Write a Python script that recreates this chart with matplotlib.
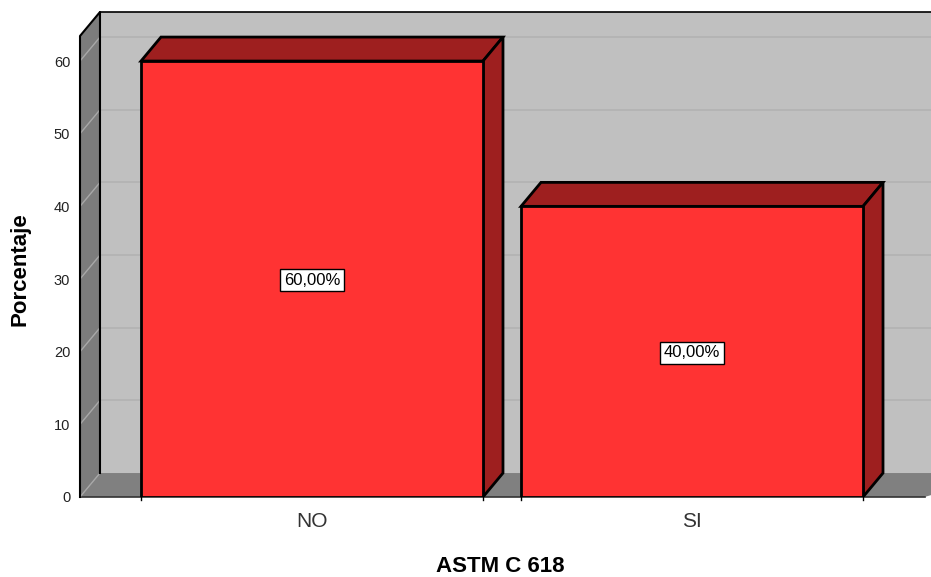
import matplotlib.pyplot as plt
from matplotlib.patches import Polygon

plt.rcParams['font.family'] = ['Liberation Sans', 'DejaVu Sans']

# data
categories = ['NO', 'SI']
percentages = [60.0, 40.0]
value_labels = ['60,00%', '40,00%']
y_ticks = [0, 10, 20, 30, 40, 50, 60]

# 3d look
dx = 0.0526      # depth offset in category units
dy = 3.3         # depth offset in percent units
bar_w = 0.9
x_left = -0.6105
x_right = 1.6289
wall_top = 63.45
face_red = '#ff3333'
dark_red = '#9e1f1f'

fig = plt.figure(figsize=(9.31, 5.77), dpi=100)
ax = fig.add_axes([80 / 931, 80 / 577, 851 / 931, 485 / 577])
ax.set_xlim(x_left, x_right)
ax.set_ylim(0, wall_top + dy)

# back wall
ax.add_patch(Polygon([(x_left + dx, dy), (x_left + dx, wall_top + dy),
                      (x_right + 0.2, wall_top + dy), (x_right + 0.2, dy)],
                     closed=True, fc='#c0c0c0', ec='none', zorder=1))
for v in y_ticks[1:]:
    ax.plot([x_left + dx, x_right], [v + dy, v + dy], color='#b2b2b2', lw=1.2, zorder=2)
ax.plot([x_left + dx, x_right + 0.2], [wall_top + dy] * 2, color='black', lw=1.2, zorder=6, clip_on=False)

# floor
ax.add_patch(Polygon([(x_left, 0), (x_left + dx, dy), (x_right + 0.2, dy), (x_right - 0.017, 0)],
                     closed=True, fc='#808080', ec='none', zorder=3))
ax.plot([x_left, x_right - 0.017], [0, 0], color='#333333', lw=1.2, zorder=4, clip_on=False)

# left wall
ax.add_patch(Polygon([(x_left, 0), (x_left, wall_top), (x_left + dx, wall_top + dy), (x_left + dx, dy)],
                     closed=True, fc='#7c7c7c', ec='none', zorder=4, clip_on=False))
for v in y_ticks:
    ax.plot([x_left, x_left + dx], [v, v + dy], color='#a8a8a8', lw=1.0, zorder=5, clip_on=False)
ax.plot([x_left, x_left, x_left + dx, x_left + dx], [0, wall_top, wall_top + dy, dy],
        color='black', lw=1.5, zorder=6, clip_on=False)

# bars
for i, (cat, val, lab) in enumerate(zip(categories, percentages, value_labels)):
    l, r = i - bar_w / 2, i + bar_w / 2
    top = Polygon([(l, val), (l + dx, val + dy), (r + dx, val + dy), (r, val)],
                  closed=True, fc=dark_red, ec='black', lw=2, zorder=10)
    side = Polygon([(r, 0), (r + dx, dy), (r + dx, val + dy), (r, val)],
                   closed=True, fc=dark_red, ec='black', lw=2, zorder=10)
    front = Polygon([(l, 0), (l, val), (r, val), (r, 0)],
                    closed=True, fc=face_red, ec='black', lw=2, zorder=11)
    for p in (top, side, front):
        ax.add_patch(p)
    for xe in (l, r):
        ax.plot([xe, xe], [0, -0.4], color='black', lw=1, zorder=11, clip_on=False)
    ax.text(i, val / 2 - 0.15, lab, ha='center', va='center', fontsize=12, zorder=12,
            bbox=dict(boxstyle='square,pad=0.22', fc='white', ec='black', lw=1))

ax.set_xticks(range(len(categories)))
ax.set_xticklabels(categories, fontsize=15, color='#333333')
ax.set_yticks(y_ticks)
ax.set_yticklabels([str(v) for v in y_ticks], fontsize=10.5, color='#222222')
ax.tick_params(axis='both', length=0)
ax.tick_params(axis='x', pad=11)
ax.tick_params(axis='y', pad=7)
for s in ax.spines.values():
    s.set_visible(False)
ax.patch.set_visible(False)

fig.text(20 / 931, 1 - 269 / 577, 'Porcentaje', rotation=90, ha='center', va='center',
         fontsize=16, fontweight='bold')
fig.text(500 / 931, 1 - 567 / 577, 'ASTM C 618', ha='center', va='center',
         fontsize=16, fontweight='bold')

fig.savefig('out.png', dpi=100, facecolor='white')
